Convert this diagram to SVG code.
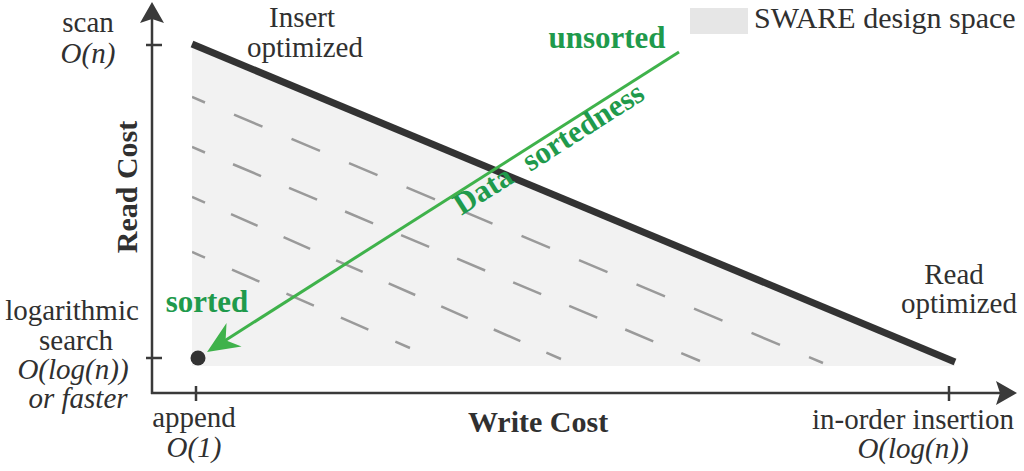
<svg xmlns="http://www.w3.org/2000/svg" width="1024" height="471" viewBox="0 0 1024 471">
  <style>
    text { font-family: "Liberation Serif", serif; font-size: 29px; fill: #303030; }
    .it { font-style: italic; }
    .b { font-weight: bold; font-size: 30px; }
    .big { font-size: 30px; }
    .mid { text-anchor: middle; }
    .green { fill: #1f9a4c; font-weight: bold; font-size: 31px; }
    .axis { stroke: #3a3a3a; stroke-width: 2.5; fill: none; }
    .dash { stroke: #9a9a9a; stroke-width: 2.5; fill: none; }
  </style>
  <defs>
    <marker id="greenHead" markerUnits="userSpaceOnUse" viewBox="-20 -16 40 32" markerWidth="40" markerHeight="32" refX="0" refY="0" orient="auto" overflow="visible">
      <path d="M15,0 L-17,-14 L-7,0 L-17,14 Z" fill="#3fb24b"/>
    </marker>
    <clipPath id="shadeClip">
      <polygon points="192,44 955,362 955,366 192,366"/>
    </clipPath>
  </defs>

  <g id="design-space">
    <polygon points="192,44 955,362 955,366 192,366" fill="#f2f2f2"/>
    <g clip-path="url(#shadeClip)">
      <line class="dash" x1="192" y1="97" x2="823" y2="363" stroke-dasharray="30.9 31.5" stroke-dashoffset="16.8"/>
      <line class="dash" x1="192" y1="147" x2="700" y2="361" stroke-dasharray="30.4 30.4" stroke-dashoffset="16.3"/>
      <line class="dash" x1="192" y1="197" x2="561" y2="359" stroke-dasharray="29 28.4" stroke-dashoffset="14.8"/>
      <line class="dash" x1="192" y1="252" x2="410" y2="348" stroke-dasharray="30 29.5" stroke-dashoffset="15.8"/>
    </g>
  </g>

  <g id="frontier">
    <line x1="192" y1="44" x2="955" y2="362" stroke="#333333" stroke-width="7"/>
  </g>

  <g id="axes">
    <line class="axis" x1="152" y1="394" x2="152" y2="16"/>
    <path d="M152,2 L164,23 L152,19 L140,23 Z" fill="#3a3a3a"/>
    <line class="axis" x1="151" y1="393" x2="1003" y2="393"/>
    <path d="M1017,393 L996,381 L1000,393 L996,405 Z" fill="#3a3a3a"/>
    <line class="axis" x1="146" y1="45" x2="162" y2="45"/>
    <line class="axis" x1="146" y1="358" x2="162" y2="358"/>
    <line class="axis" x1="196" y1="386" x2="196" y2="401"/>
    <line class="axis" x1="949" y1="386" x2="949" y2="401"/>
  </g>

  <g id="origin-point">
    <circle cx="198" cy="358" r="7.5" fill="#333333"/>
  </g>

  <g id="connectors">
    <line x1="679" y1="52" x2="219.7" y2="343.9" stroke="#3fb24b" stroke-width="3" marker-end="url(#greenHead)"/>
  </g>

  <g id="y-labels">
    <text class="mid" x="88" y="32">scan</text>
    <text class="mid it" x="88" y="63">O(n)</text>
    <text class="mid" x="72" y="320">logarithmic</text>
    <text class="mid" x="76" y="350">search</text>
    <text class="mid it" x="73" y="379">O(log(n))</text>
    <text class="mid it" x="78" y="408">or faster</text>
    <text class="mid b" transform="translate(137,187) rotate(-90)">Read Cost</text>
  </g>

  <g id="x-labels">
    <text class="mid" x="194" y="427">append</text>
    <text class="mid it" x="194" y="457">O(1)</text>
    <text class="mid b" x="538" y="432">Write Cost</text>
    <text class="mid" x="913" y="429">in-order insertion</text>
    <text class="mid it" x="913" y="458">O(log(n))</text>
  </g>

  <g id="corner-labels">
    <text class="mid" x="302" y="27">Insert</text>
    <text class="mid" x="305" y="57">optimized</text>
    <text class="mid" x="954" y="284">Read</text>
    <text class="mid" x="959" y="313">optimized</text>
  </g>

  <g id="sortedness-labels">
    <text class="mid green" x="207" y="312">sorted</text>
    <text class="mid green" x="607" y="48">unsorted</text>
    <text class="mid green" transform="translate(554,157) rotate(-32.4)" word-spacing="10">Data sortedness</text>
  </g>

  <g id="legend">
    <rect x="690" y="8" width="58" height="26" fill="#e6e6e6"/>
    <text class="big" x="754" y="28">SWARE design space</text>
  </g>
</svg>
